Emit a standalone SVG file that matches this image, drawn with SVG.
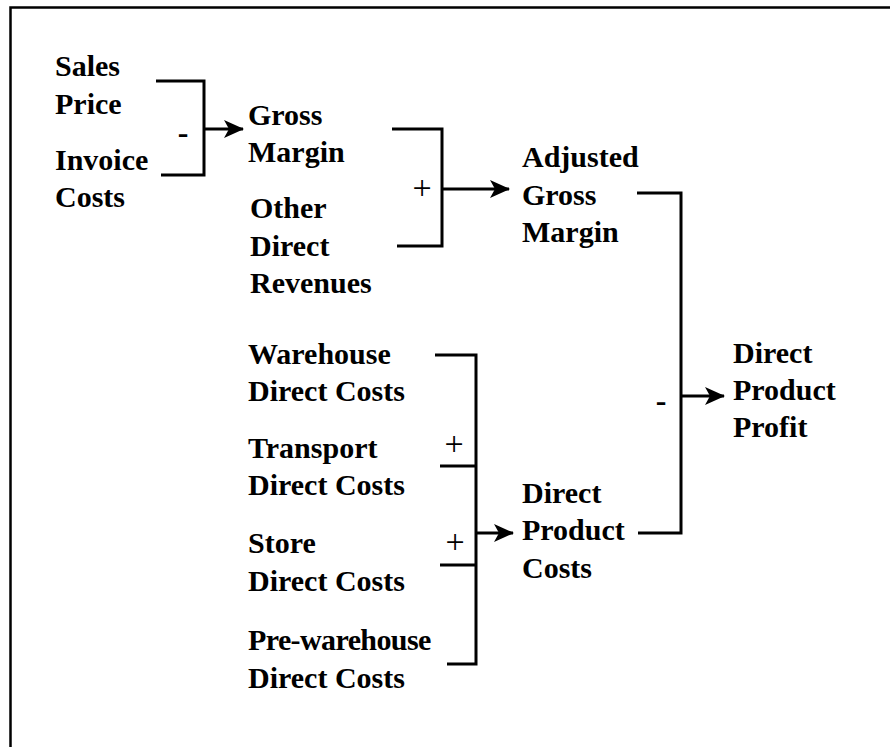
<svg xmlns="http://www.w3.org/2000/svg" width="890" height="747" viewBox="0 0 890 747">
<style>
  .t { font-family: "Liberation Serif", "Times New Roman", Times, serif; font-weight: bold; font-size: 30px; fill: #000; }
  .tight { letter-spacing: -0.6px; }
  .op { font-family: "Liberation Serif", "Times New Roman", Times, serif; font-size: 34px; fill: #000; }
  .mn { font-family: "Liberation Serif", "Times New Roman", Times, serif; font-weight: bold; font-size: 32px; fill: #000; }
  .ln { fill: none; stroke: #000; stroke-width: 3; stroke-linecap: butt; stroke-linejoin: miter; }
  .fr { fill: none; stroke: #000; stroke-width: 2.5; }
</style>
<defs>
  <marker id="ah" markerWidth="20" markerHeight="18" viewBox="0 0 20 18" refX="19" refY="9" orient="auto" markerUnits="userSpaceOnUse">
    <path d="M0,0 L20,9 L0,18 L5,9 Z" fill="#000"/>
  </marker>
</defs>
<rect width="890" height="747" fill="#fff"/>
<g id="frame">
  <path class="fr" d="M10.5,747 V7.5 H890"/>
</g>
<g id="sales-price"><text class="t" x="55" y="76">Sales</text><text class="t" x="55" y="114">Price</text></g>
<g id="invoice-costs"><text class="t" x="55" y="170">Invoice</text><text class="t" x="55" y="207">Costs</text></g>
<g id="gross-margin"><text class="t" x="248" y="125">Gross</text><text class="t" x="248" y="162">Margin</text></g>
<g id="other-direct-revenues"><text class="t" x="250" y="218">Other</text><text class="t" x="250" y="256">Direct</text><text class="t" x="250" y="293">Revenues</text></g>
<g id="adjusted-gross-margin"><text class="t" x="522" y="167">Adjusted</text><text class="t" x="522" y="205">Gross</text><text class="t" x="522" y="242">Margin</text></g>
<g id="warehouse"><text class="t" x="248" y="364">Warehouse</text><text class="t" x="248" y="401">Direct Costs</text></g>
<g id="transport"><text class="t" x="248" y="458">Transport</text><text class="t" x="248" y="495">Direct Costs</text></g>
<g id="store"><text class="t" x="248" y="553">Store</text><text class="t" x="248" y="591">Direct Costs</text></g>
<g id="pre-warehouse"><text class="t tight" x="248" y="650">Pre-warehouse</text><text class="t" x="248" y="688">Direct Costs</text></g>
<g id="direct-product-costs"><text class="t" x="522" y="503">Direct</text><text class="t" x="522" y="540">Product</text><text class="t" x="522" y="578">Costs</text></g>
<g id="direct-product-profit"><text class="t" x="733" y="363">Direct</text><text class="t" x="733" y="400">Product</text><text class="t" x="733" y="437">Profit</text></g>
<g id="connectors">
  <path class="ln" d="M156,81 H204 V175 H161"/>
  <path class="ln" d="M204,129 H243" marker-end="url(#ah)"/>
  <text class="mn" x="183" y="143" text-anchor="middle">-</text>
  <path class="ln" d="M392,129 H442 V246 H397"/>
  <path class="ln" d="M442,189 H509" marker-end="url(#ah)"/>
  <text class="op" x="422" y="199" text-anchor="middle">+</text>
  <path class="ln" d="M637,193 H681 V533 H638"/>
  <path class="ln" d="M681,396 H724" marker-end="url(#ah)"/>
  <text class="mn" x="661" y="411" text-anchor="middle">-</text>
  <path class="ln" d="M435,355 H476 V664 H447"/>
  <path class="ln" d="M440,466 H476"/>
  <path class="ln" d="M440,565 H476"/>
  <path class="ln" d="M476,533 H513" marker-end="url(#ah)"/>
  <text class="op" x="454" y="455" text-anchor="middle">+</text>
  <text class="op" x="455" y="553" text-anchor="middle">+</text>
</g>
</svg>
